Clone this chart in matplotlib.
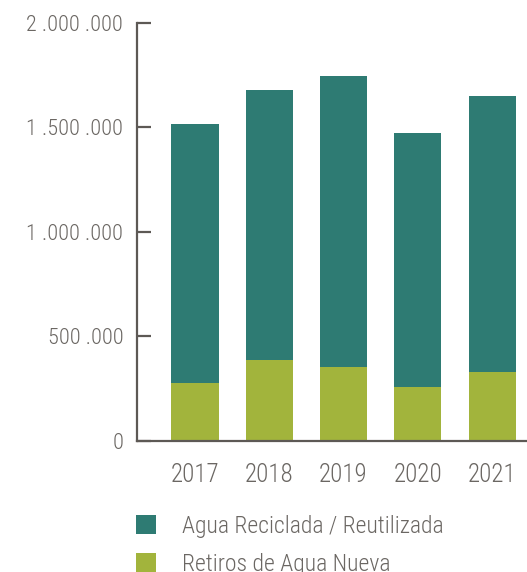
import matplotlib
matplotlib.use("Agg")
import matplotlib.pyplot as plt
from matplotlib.patches import Patch

years = ["2017", "2018", "2019", "2020", "2021"]
retiros_agua_nueva = [277000, 387000, 354000, 258000, 330000]
agua_reciclada = [1239000, 1291000, 1391000, 1215000, 1319000]
y_ticks = [0, 500000, 1000000, 1500000, 2000000]
y_tick_labels = ["0", "500 .000", "1 .000 .000", "1 .500 .000", "2 .000 .000"]
legend_labels = ["Agua Reciclada / Reutilizada", "Retiros de Agua Nueva"]

teal = "#2e7b73"
olive = "#a2b43c"
axis_color = "#5d5955"
text_color = "#6b6763"

plt.rcParams["font.family"] = ["Roboto Condensed", "DejaVu Sans"]
plt.rcParams["font.weight"] = "light"

fig = plt.figure(figsize=(5.27, 5.72), dpi=100)
ax = fig.add_axes([0.26, 0.229, 0.74, 0.731])

x = list(range(len(years)))
width = 0.635
ax.bar(x, retiros_agua_nueva, width=width, color=olive, zorder=2)
ax.bar(x, agua_reciclada, width=width, bottom=retiros_agua_nueva, color=teal, zorder=2)

ax.set_xlim(-0.78, 4.47)
ax.set_ylim(0, 2000000)

ax.spines["top"].set_visible(False)
ax.spines["right"].set_visible(False)
for s in ("left", "bottom"):
    ax.spines[s].set_color(axis_color)
    ax.spines[s].set_linewidth(1.6)

ax.set_yticks(y_ticks)
ax.set_yticklabels(y_tick_labels)
ax.tick_params(axis="y", direction="in", length=10, width=1.6, color=axis_color,
               labelsize=16, labelcolor=text_color, pad=10)
ax.set_xticks(x)
ax.set_xticklabels(years)
ax.tick_params(axis="x", length=0, labelsize=18, labelcolor=text_color, pad=16)

handles = [Patch(facecolor=teal), Patch(facecolor=olive)]
leg = fig.legend(handles, legend_labels, loc="upper left",
                 bbox_to_anchor=(0.258, 0.0997), frameon=False,
                 fontsize=17, handlelength=0.85, handleheight=0.85,
                 handletextpad=1.1, labelspacing=0.62, borderaxespad=0,
                 borderpad=0)
for t in leg.get_texts():
    t.set_color(text_color)

fig.savefig("out.png", dpi=100)
